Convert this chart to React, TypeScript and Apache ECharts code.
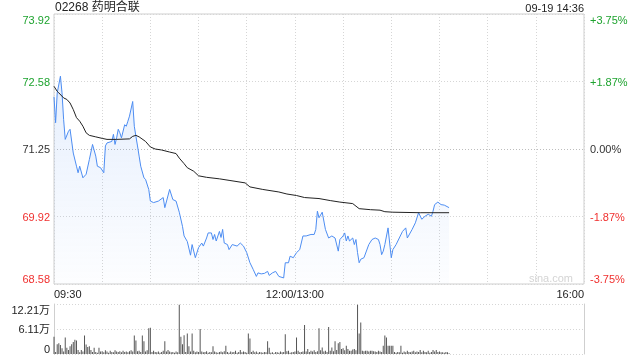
import React, { useEffect, useRef } from "react";
import * as echarts from "echarts";

const stockTitle = "02268 药明合联";
const timeStamp = "09-19 14:36";
const watermark = "sina.com";

// minutes since 09:30 (trading minutes, lunch break removed)
const priceMinutes = [
  0, 1, 2, 4, 5, 6, 7, 9, 10, 12, 14, 15, 16, 18, 20, 22, 24, 26, 27, 29,
  31, 32, 33, 36, 37, 38, 39, 40, 41, 42, 44, 45, 46, 47, 49, 50, 51, 52, 53, 54,
  56, 57, 59, 60, 62, 65, 68, 69, 72, 74, 76, 78, 80, 81, 83, 85, 86, 88, 90, 92,
  93, 95, 96, 98, 99, 100, 101, 103, 104, 105, 106, 108, 109, 111, 114, 116, 118, 120, 122, 124,
  126, 127, 129, 131, 133, 134, 136, 138, 140, 143, 144, 146, 147, 149, 151, 153, 155, 157, 160, 162,
  163, 164, 165, 167, 169, 171, 173, 175, 177, 178, 180, 181, 182, 183, 184, 186, 187, 188, 189, 190,
  191, 193, 196, 198, 200, 202, 203, 204, 205, 206, 208, 209, 210, 211, 213, 215, 217, 219, 220, 223,
  225, 227, 229, 231, 233, 235, 236, 237, 239, 241, 243, 246,
];
const prices = [
  72.28, 71.77, 72.36, 72.69, 72.36, 71.83, 71.44, 71.6, 71.64, 71.17, 70.91, 70.78, 70.91, 70.68, 70.75, 71.04, 71.34, 71.11, 70.91, 70.88,
  70.78, 71.31, 71.37, 71.4, 71.54, 71.34, 71.47, 71.64, 71.57, 71.47, 71.73, 71.7, 71.8, 71.9, 72.19, 71.7, 71.5, 71.31, 71.11, 70.91,
  70.68, 70.65, 70.45, 70.22, 70.19, 70.22, 70.29, 70.09, 70.45, 70.25, 70.22, 70.0, 69.72, 69.53, 69.42, 69.15, 69.36, 69.1, 69.3, 69.39,
  69.33, 69.49, 69.59, 69.59, 69.46, 69.56, 69.43, 69.62, 69.5, 69.66, 69.39, 69.36, 69.26, 69.36, 69.33, 69.39, 69.33, 69.2, 69.0, 68.87,
  68.73, 68.8, 68.78, 68.79, 68.83, 68.75, 68.8, 68.83, 68.73, 68.7, 69.0, 69.0, 69.13, 69.1, 69.2, 69.26, 69.53, 69.53, 69.56, 69.56,
  69.66, 70.02, 69.89, 70.0, 69.66, 69.49, 69.53, 69.49, 69.23, 69.46, 69.53, 69.59, 69.43, 69.53, 69.43, 69.49, 69.36, 69.46, 69.2, 69.0,
  69.07, 69.1, 69.36, 69.46, 69.49, 69.46, 69.36, 69.16, 69.23, 69.36, 69.69, 69.39, 69.1, 69.26, 69.36, 69.49, 69.62, 69.69, 69.49, 69.66,
  69.79, 69.99, 69.86, 69.92, 69.96, 69.92, 70.02, 70.15, 70.2, 70.15, 70.14, 70.09,
];

const avgMinutes = [
  0, 2, 3, 6, 8, 10, 12, 14, 16, 18, 20, 22, 26, 30, 33, 39, 47, 49, 51, 53,
  57, 60, 63, 67, 72, 76, 78, 81, 83, 87, 90, 95, 103, 109, 119, 122, 130, 140, 145, 151,
  156, 165, 172, 178, 186, 190, 197, 203, 206, 211, 228, 246,
];
const avgPrices = [
  72.49, 72.39, 72.36, 72.26, 72.23, 72.16, 72.03, 71.87, 71.8, 71.7, 71.57, 71.52, 71.49, 71.46, 71.44, 71.44, 71.45, 71.5, 71.52, 71.49,
  71.4, 71.29, 71.25, 71.23, 71.19, 71.16, 71.07, 70.96, 70.88, 70.81, 70.72, 70.69, 70.66, 70.63, 70.58, 70.5, 70.45, 70.4, 70.36, 70.33,
  70.29, 70.27, 70.23, 70.2, 70.17, 70.07, 70.05, 70.04, 70.01, 70.0, 69.99, 69.99,
];

// volume per minute, in 万 shares, from minute 0
const volumes = [
  4.2, 0.5, 2.4, 2.6, 2.2, 1.4, 0.6, 4.0, 1.5, 1.0,
  1.9, 2.4, 2.9, 3.5, 3.3, 1.0, 0.4, 1.0, 0.6, 4.5,
  2.3, 1.7, 1.9, 1.0, 0.5, 1.5, 0.5, 0.3, 1.5, 0.6,
  0.7, 0.4, 0.9, 0.6, 0.3, 0.8, 0.5, 0.4, 0.9, 0.6,
  0.5, 0.7, 0.4, 0.8, 0.5, 0.6, 0.4, 0.7, 0.9, 0.6,
  4.5, 3.3, 0.7, 0.8, 0.5, 4.5, 3.1, 0.6, 0.9, 6.3,
  6.4, 0.5, 0.8, 0.5, 0.4, 0.6, 0.3, 0.5, 0.8, 3.1,
  0.6, 1.0, 0.6, 0.4, 0.5, 0.3, 0.6, 0.4, 12.0, 4.2,
  2.4, 4.6, 0.5, 5.0, 1.9, 0.6, 5.0, 0.8, 0.4, 0.6,
  0.5, 6.1, 0.6, 0.4, 0.5, 0.7, 0.3, 0.5, 0.4, 1.9,
  0.6, 0.4, 0.3, 0.5, 0.6, 0.4, 0.7, 2.0, 0.5, 0.3,
  0.6, 0.4, 0.5, 0.8, 0.3, 0.5, 1.0, 0.4, 0.6, 0.5,
  0.3, 5.0, 3.8, 0.5, 0.8, 0.4, 0.6, 0.3, 0.5, 0.4,
  0.3, 0.5, 0.4, 3.1, 1.5, 0.3, 0.4, 0.2, 0.5, 0.4,
  0.3, 0.6, 0.4, 0.5, 4.8, 0.7, 0.8, 0.3, 0.4, 0.5,
  0.6, 4.0, 0.8, 0.4, 0.5, 0.6, 7.1, 0.6, 1.2, 0.5,
  0.8, 0.6, 0.9, 0.5, 0.7, 6.3, 0.9, 1.6, 0.6, 0.8,
  0.5, 6.6, 0.8, 1.6, 0.7, 3.1, 1.0, 2.6, 2.9, 1.2,
  1.4, 0.9, 2.0, 1.2, 0.8, 0.8, 1.1, 1.2, 0.9, 12.0,
  5.0, 7.7, 0.8, 0.7, 0.8, 0.8, 0.6, 0.8, 0.8, 0.7,
  0.6, 0.5, 0.8, 0.6, 0.5, 2.0, 4.5, 4.0, 2.0, 2.0,
  2.0, 2.0, 0.5, 0.3, 0.5, 0.4, 2.0, 0.3, 0.6, 0.4,
  0.8, 0.5, 0.4, 0.6, 0.8, 0.4, 0.6, 0.5, 1.0, 0.4,
  0.8, 0.5, 0.4, 0.8, 0.3, 0.5, 1.0, 0.6, 1.0, 0.5,
  0.6, 0.4, 0.4, 0.3, 0.5, 0.4, 0.2,
];

const priceMin = 68.58;
const priceMax = 73.92;
const pctTicks = [-3.75, -1.875, 0, 1.875, 3.75];
const leftTickLabels = ["68.58", "69.92", "71.25", "72.58", "73.92"];
const rightTickLabels = ["-3.75%", "-1.87%", "0.00%", "+1.87%", "+3.75%"];
const tickTones = ["down", "down", "flat", "up", "up"];
const volMax = 12.21;
const volTickLabels = ["0", "6.11万", "12.21万"];
const xLabelMinutes = [0, 150, 330];
const xLabelTexts = ["09:30", "12:00/13:00", "16:00"];
const totalMinutes = 330;

const FONT = '"Liberation Sans", Arial, "Noto Sans CJK SC", sans-serif';
const UP = "#1ea32f";
const DOWN = "#f0302f";
const FLAT = "#333";

export default function App() {
  const ref = useRef<HTMLDivElement>(null);
  useEffect(() => {
    if (!ref.current) return;
    const chart = echarts.init(ref.current, undefined, { renderer: "svg" });
    const pctIndex = (v: number) => Math.round((v - pctTicks[0]) / (pctTicks[1] - pctTicks[0]));
    const rich = {
      up: { color: UP, fontSize: 11, fontFamily: FONT },
      down: { color: DOWN, fontSize: 11, fontFamily: FONT },
      flat: { color: FLAT, fontSize: 11, fontFamily: FONT },
    };
    const gridColor = "#d6d6d6";
    const option: any = {
      animation: false,
      textStyle: { fontFamily: FONT },
      grid: [
        { left: 54, right: 56, top: 14, height: 270, show: true, borderColor: "#cfcfcf", borderWidth: 1, backgroundColor: "transparent" },
        { left: 54, right: 56, top: 304, height: 50 },
      ],
      graphic: [
        { type: "text", left: 55, top: 1, style: { text: stockTitle, font: `12px ${FONT}`, fill: "#222" } },
        { type: "text", right: 56, top: 2, style: { text: timeStamp, font: `11px ${FONT}`, fill: "#222" } },
        { type: "text", right: 67, top: 272, style: { text: watermark, font: `11px ${FONT}`, fill: "#d4d4d4" } },
      ],
      xAxis: [
        {
          type: "value", gridIndex: 0, min: 0, max: totalMinutes, interval: 30,
          axisLine: { show: false }, axisTick: { show: false },
          splitLine: { show: true, lineStyle: { color: gridColor, type: [1, 2] } },
          axisLabel: {
            margin: 4, fontSize: 11, color: "#222", fontFamily: FONT,
            alignMinLabel: "left", alignMaxLabel: "right",
            formatter: (v: number) => {
              const i = xLabelMinutes.indexOf(Math.round(v));
              return i >= 0 ? xLabelTexts[i] : "";
            },
          },
        },
        {
          type: "value", gridIndex: 1, min: 0, max: totalMinutes,
          axisLine: { show: false }, axisTick: { show: false }, axisLabel: { show: false }, splitLine: { show: false },
        },
      ],
      yAxis: [
        { type: "value", gridIndex: 0, min: priceMin, max: priceMax, show: false },
        {
          type: "value", gridIndex: 0, position: "left", min: -3.75, max: 3.75, interval: 1.875,
          axisLine: { show: false }, axisTick: { show: false },
          splitLine: { show: true, lineStyle: { color: [gridColor, gridColor, "#bdbdbd", gridColor, gridColor], type: [1, 2] } },
          axisLabel: {
            margin: 4, rich, verticalAlignMinLabel: "bottom", verticalAlignMaxLabel: "top",
            formatter: (v: number) => {
              const i = pctIndex(v);
              return `{${tickTones[i]}|${leftTickLabels[i]}}`;
            },
          },
        },
        {
          type: "value", gridIndex: 0, position: "right", min: -3.75, max: 3.75, interval: 1.875,
          axisLine: { show: false }, axisTick: { show: false }, splitLine: { show: false },
          axisLabel: {
            margin: 6, rich, verticalAlignMinLabel: "bottom", verticalAlignMaxLabel: "top",
            formatter: (v: number) => {
              const i = pctIndex(v);
              return `{${tickTones[i]}|${rightTickLabels[i]}}`;
            },
          },
        },
        {
          type: "value", gridIndex: 1, position: "left", min: 0, max: volMax, interval: volMax / 2,
          axisLine: { show: true, lineStyle: { color: "#cfcfcf" } }, axisTick: { show: false },
          splitLine: { show: true, lineStyle: { color: gridColor, type: [1, 2] } },
          axisLabel: {
            margin: 4, fontSize: 11, color: "#222", fontFamily: FONT,
            verticalAlignMinLabel: "bottom", verticalAlignMaxLabel: "top",
            formatter: (v: number) => volTickLabels[Math.round(v / (volMax / 2))],
          },
        },
        {
          type: "value", gridIndex: 1, position: "right", min: 0, max: volMax,
          axisLine: { show: true, lineStyle: { color: "#cfcfcf" } }, axisTick: { show: false },
          axisLabel: { show: false }, splitLine: { show: false },
        },
      ],
      series: [
        {
          type: "line", xAxisIndex: 0, yAxisIndex: 0, symbol: "none",
          data: priceMinutes.map((m, i) => [m, prices[i]]),
          lineStyle: { color: "#4d8df2", width: 1 },
          areaStyle: {
            origin: "start",
            color: new echarts.graphic.LinearGradient(0, 0, 0, 1, [
              { offset: 0, color: "rgba(77,141,242,0.2)" },
              { offset: 1, color: "rgba(77,141,242,0.02)" },
            ]),
          },
          z: 3,
        },
        {
          type: "line", xAxisIndex: 0, yAxisIndex: 0, symbol: "none",
          data: avgMinutes.map((m, i) => [m, avgPrices[i]]),
          lineStyle: { color: "#222", width: 1 },
          z: 4,
        },
        {
          type: "bar", xAxisIndex: 1, yAxisIndex: 3, barWidth: 1,
          data: volumes.map((v, i) => [i, v]),
          itemStyle: { color: "#555" },
        },
      ],
    };
    chart.setOption(option);
    return () => chart.dispose();
  }, []);
  return <div ref={ref} style={{ position: "fixed", left: 0, top: 0, width: 640, height: 360 }} />;
}
